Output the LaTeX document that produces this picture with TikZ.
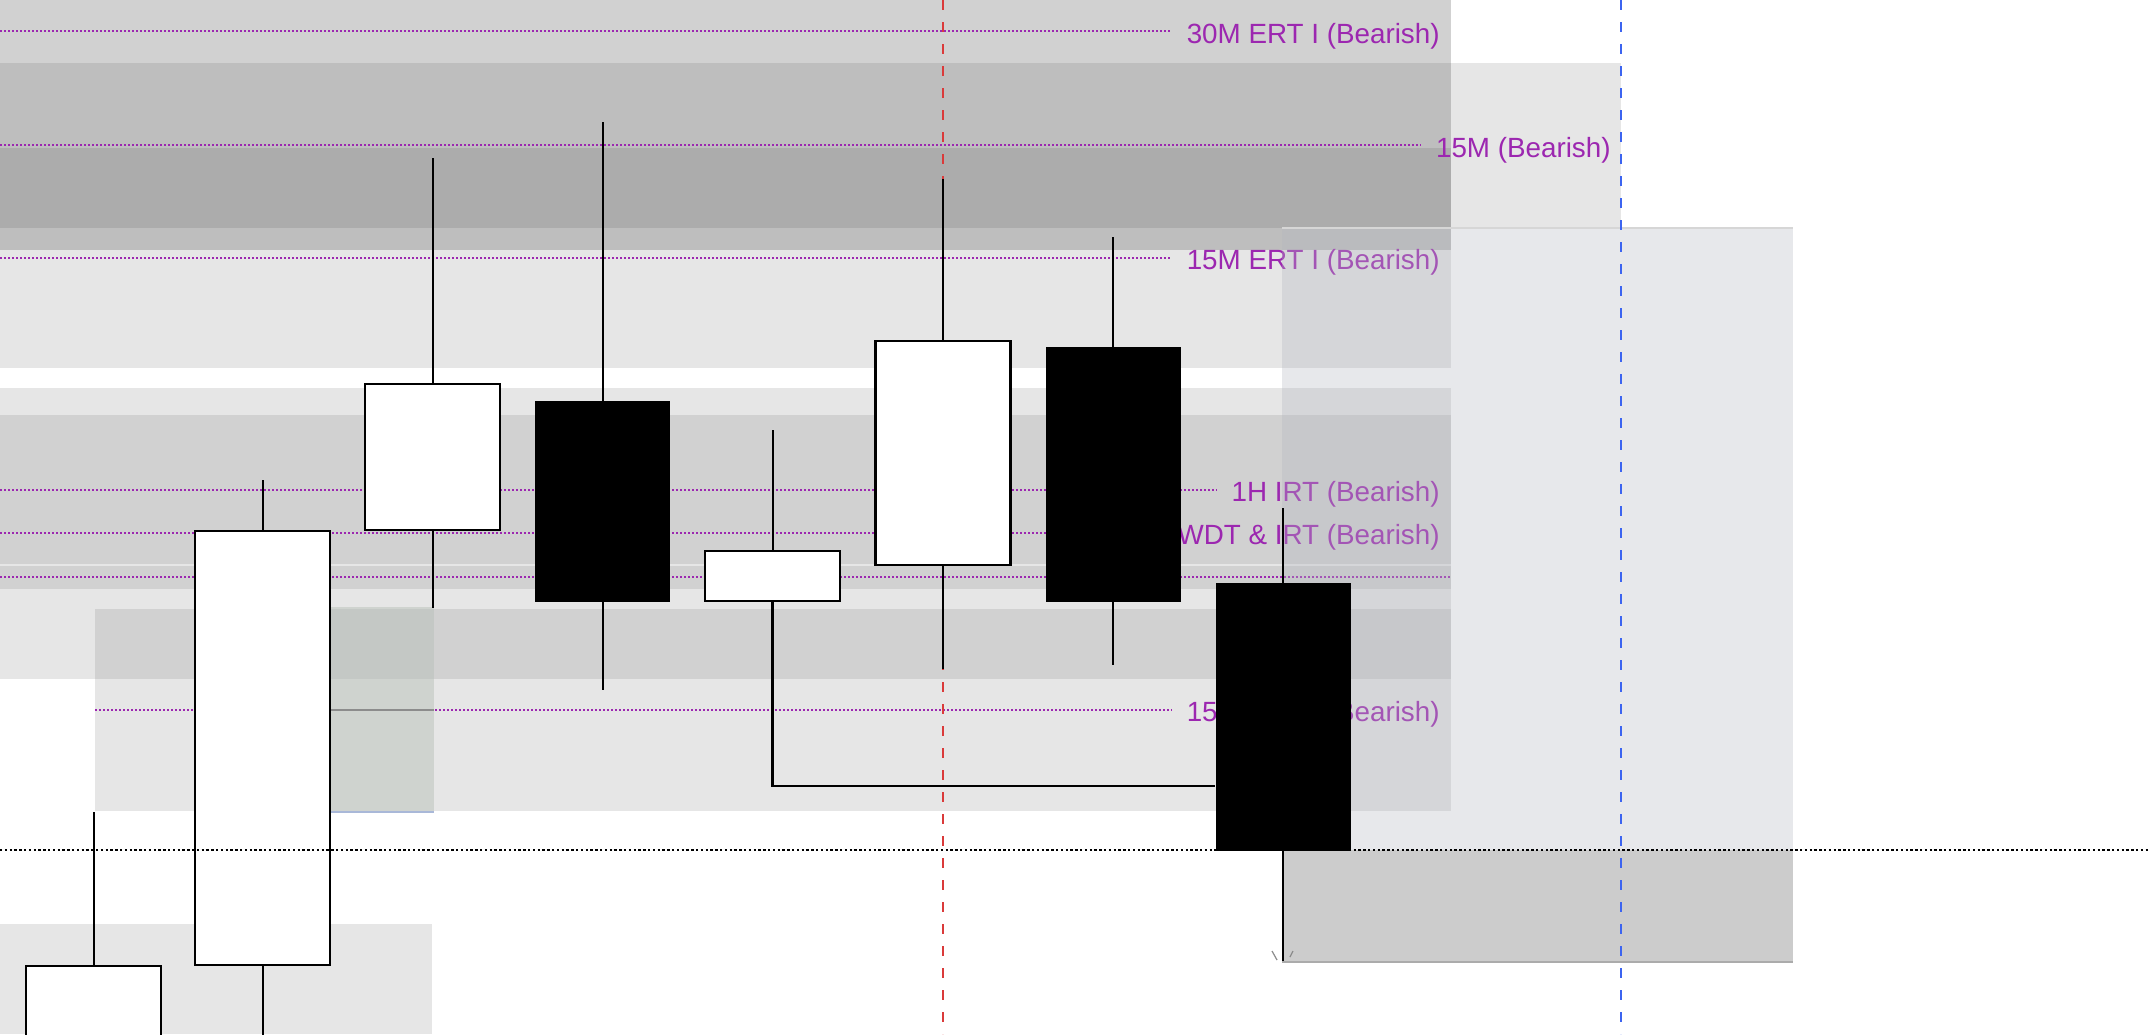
\documentclass[tikz,border=0pt]{standalone}
\usepackage{fontspec}
\setmainfont{Liberation Sans}
\definecolor{zoneA}{HTML}{E6E6E6}
\definecolor{zoneB}{HTML}{D1D1D1}
\definecolor{zoneC}{HTML}{BEBEBE}
\definecolor{zoneD}{HTML}{ACACAC}
\definecolor{lvlpurple}{HTML}{9C27B0}
\definecolor{fvgblue}{RGB}{180,183,192}
\definecolor{obgreen}{RGB}{182,192,184}
\definecolor{obedge}{RGB}{169,184,216}
\definecolor{sessred}{RGB}{218,58,58}
\definecolor{sessblue}{RGB}{60,100,240}
\begin{document}
\begin{tikzpicture}[x=0.5pt,y=-0.5pt,
    bull/.style={draw=black,fill=white,line width=1.4pt,inner sep=0pt,minimum width=67.5pt},
    bear/.style={fill=black,inner sep=0pt,minimum width=67.5pt},
    wick/.style={line width=1pt},
    lvl/.style={lvlpurple,line width=0.9pt,dash pattern=on 1pt off 1pt,shorten >=7.5pt},
    lvltext/.style={text=lvlpurple,anchor=base east,inner sep=0pt,font=\fontsize{13.9}{16}\selectfont},
    sess/.style={line width=0.8pt,dash pattern=on 5pt off 6pt}]
  \useasboundingbox (0,0) rectangle (2150,1034);
  \clip (0,0) rectangle (2150,1034);
  % zones
  \fill[zoneA] (0,63) rectangle (1621,228);
  \fill[zoneB] (0,0) rectangle (1451,63);
  \fill[zoneC] (0,63) rectangle (1451,250);
  \fill[zoneD] (0,148) rectangle (1451,228);
  \fill[zoneA] (0,250) rectangle (1451,368);
  \fill[zoneA] (0,388) rectangle (1451,679);
  \fill[zoneB] (0,415) rectangle (1451,564);
  \fill[zoneB] (0,566) rectangle (1451,589);
  \fill[zoneA] (95,609) rectangle (1451,811);
  \fill[zoneB] (95,609) rectangle (1451,679);
  \fill[zoneA] (0,924) rectangle (432,1034);

  % levels
  \node[lvltext] (l30ert) at (1440,43) {30M ERT I (Bearish)};
  \node[lvltext] (l15) at (1611,157) {15M (Bearish)};
  \node[lvltext] (l15ert) at (1440,269) {15M ERT I (Bearish)};
  \node[lvltext] (l1hirt) at (1440,501) {1H IRT (Bearish)};
  \node[lvltext] (lwdt) at (1440,544) {WDT \& IRT (Bearish)};
  \node[lvltext] (l15low) at (1440,721) {15M ERT I (Bearish)};
  \coordinate (s30ert) at (0,31);
  \coordinate (s15) at (0,145);
  \coordinate (s15ert) at (0,258);
  \coordinate (s1hirt) at (0,490);
  \coordinate (swdt) at (0,533);
  \coordinate (s15low) at (95,710);
  \coordinate (seq) at (0,577);
  \coordinate (eeq) at (1451,577);
  \draw[lvl] (s30ert) -- (s30ert -| l30ert.west);
  \draw[lvl] (s15) -- (s15 -| l15.west);
  \draw[lvl] (s15ert) -- (s15ert -| l15ert.west);
  \draw[lvl] (s1hirt) -- (s1hirt -| l1hirt.west);
  \draw[lvl] (swdt) -- (swdt -| lwdt.west);
  \draw[lvl] (s15low) -- (s15low -| l15low.west);
  \draw[lvl,shorten >=0pt] (seq) -- (eeq);

  % overlays
  \fill[fvgblue,opacity=0.32] (1282,228) rectangle (1793,850);
  \draw[black!16,line width=0.6pt] (1282,228) -- (1793,228);
  \fill[obgreen,opacity=0.48] (330,607) rectangle (434,812);
  \draw[obedge,line width=1pt] (330,812) -- (434,812);
  \draw[black!45,line width=0.8pt] (330,710) -- (434,710);
  \fill[black!20] (1282,850) rectangle (1793,962);
  \draw[black!33,line width=0.8pt] (1282,962) -- (1793,962);

  % sessions
  \coordinate (rtop) at (943,0);
  \coordinate (rbot) at (943,1034);
  \coordinate (btop) at (1621,0);
  \coordinate (bbot) at (1621,1034);
  \draw[sess,sessred] (rtop) -- (rbot);
  \draw[sess,sessblue] (btop) -- (bbot);

  % candles
  \node[bull,minimum height=57pt] (c1) at (93.5,1023) {};
  \node[bull,minimum height=217pt] (c2) at (262.5,748) {};
  \node[bull,minimum height=73pt] (c3) at (432.5,457) {};
  \node[bear,minimum height=100.5pt] (c4) at (602.5,501.5) {};
  \node[bull,minimum height=25pt] (c5) at (772.5,576) {};
  \node[bull,minimum height=112pt] (c6) at (943,453) {};
  \node[bear,minimum height=127.5pt] (c7) at (1113,474.5) {};
  \node[bear,minimum height=134pt] (c8) at (1283,717) {};
  \coordinate (c1hi) at (93.5,812);
  \coordinate (c2hi) at (262.5,480);
  \coordinate (c2lo) at (262.5,1040);
  \coordinate (c3hi) at (432.5,158);
  \coordinate (c3lo) at (432.5,608);
  \coordinate (c4hi) at (602.5,122);
  \coordinate (c4lo) at (602.5,690);
  \coordinate (c5hi) at (772.5,430);
  \coordinate (c6hi) at (943,179);
  \coordinate (c6lo) at (943,669);
  \coordinate (c7hi) at (1113,237);
  \coordinate (c7lo) at (1113,665);
  \coordinate (c8hi) at (1283,508);
  \coordinate (c8lo) at (1283,961);
  \coordinate (tie) at (1215,786);
  \begin{scope}[wick]
    \draw (c1hi) -- (c1.north);
    \draw (c2hi) -- (c2.north);
    \draw (c2.south) -- (c2lo);
    \draw (c3hi) -- (c3.north);
    \draw (c3.south) -- (c3lo);
    \draw (c4hi) -- (c4.north);
    \draw (c4.south) -- (c4lo);
    \draw (c5hi) -- (c5.north);
    \draw (c6hi) -- (c6.north);
    \draw (c6.south) -- (c6lo);
    \draw (c7hi) -- (c7.north);
    \draw (c7.south) -- (c7lo);
    \draw (c8hi) -- (c8.north);
    \draw (c8.south) -- (c8lo);
  \end{scope}
  \draw[line width=1.1pt] (c5.south) |- (tie);
  \draw[black!45,line width=0.6pt] (1272,951) -- (1277,960) (1293,951) -- (1290,957);

  % price line
  \coordinate (pl) at (0,850);
  \coordinate (pr) at (2150,850);
  \draw[line width=0.9pt,dash pattern=on 1.2pt off 1.2pt] (pl) -- (pr);
\end{tikzpicture}
\end{document}
